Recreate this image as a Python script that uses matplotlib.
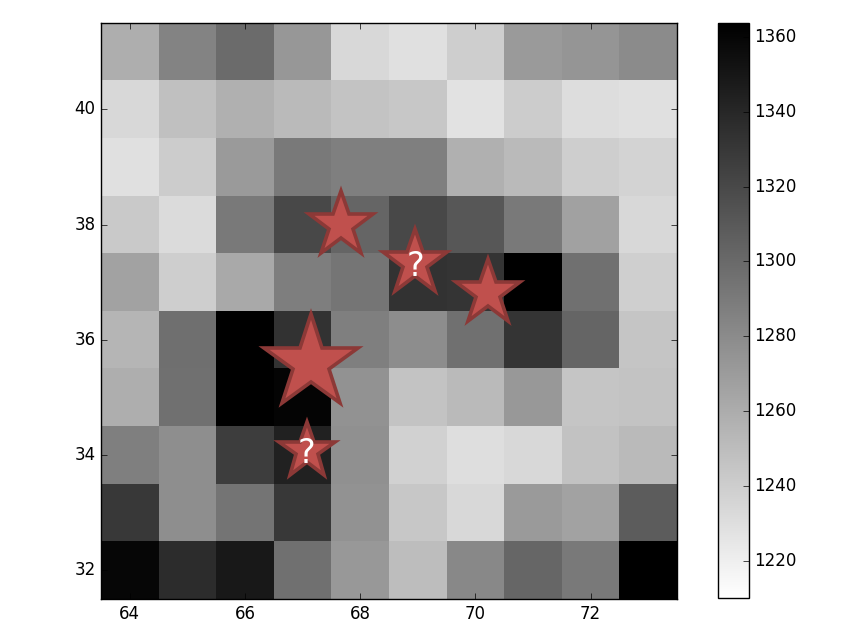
import matplotlib
matplotlib.use("Agg")
import matplotlib.pyplot as plt
from matplotlib.markers import MarkerStyle
import numpy as np

# grid values, top row (y=41) first, columns x=64..73
row_41 = [1259, 1284, 1299, 1273, 1234, 1229, 1240, 1271, 1274, 1280]
row_40 = [1234, 1248, 1258, 1252, 1246, 1244, 1228, 1241, 1231, 1229]
row_39 = [1229, 1241, 1271, 1290, 1287, 1287, 1258, 1252, 1240, 1237]
row_38 = [1243, 1232, 1290, 1320, 1303, 1320, 1311, 1290, 1267, 1234]
row_37 = [1266, 1240, 1262, 1288, 1293, 1333, 1332, 1364, 1296, 1239]
row_36 = [1255, 1297, 1364, 1333, 1287, 1279, 1296, 1332, 1303, 1245]
row_35 = [1259, 1296, 1364, 1361, 1276, 1246, 1252, 1272, 1245, 1246]
row_34 = [1287, 1278, 1327, 1343, 1277, 1238, 1230, 1234, 1247, 1252]
row_33 = [1330, 1278, 1294, 1329, 1276, 1244, 1234, 1271, 1266, 1308]
row_32 = [1360, 1337, 1349, 1296, 1272, 1250, 1282, 1302, 1290, 1364]
grid = np.array([row_41, row_40, row_39, row_38, row_37,
                 row_36, row_35, row_34, row_33, row_32])

# star markers
star_x = [67.66, 68.96, 70.22, 67.15, 67.07]
star_y = [38.00, 37.33, 36.82, 35.60, 34.07]
star_ms = [49, 49, 49, 71, 42]
star_label = ["", "?", "", "", "?"]

plt.style.use("classic")
fig = plt.figure(figsize=(8.46, 6.38), dpi=100, facecolor="white")
ax = fig.add_axes([0.1194, 0.0611, 0.6808, 0.9028])
cax = fig.add_axes([0.8487, 0.0627, 0.0366, 0.9012])

im = ax.imshow(grid, cmap="gray_r", vmin=1210, vmax=1363.7,
               extent=[63.5, 73.5, 31.5, 41.5], origin="upper",
               interpolation="nearest", aspect="auto")
star = MarkerStyle("*", joinstyle="miter")
for x, y, ms, lab in zip(star_x, star_y, star_ms, star_label):
    ax.plot(x, y, marker=star, ms=ms, mfc="#c0504d", mec="#8c3937",
            mew=2.6, ls="none")
    if lab:
        ax.text(x, y - 0.05, lab, color="white", fontsize=24,
                ha="center", va="center")

ax.set_xlim(63.5, 73.5)
ax.set_ylim(31.5, 41.5)
ax.set_xticks([64, 66, 68, 70, 72])
ax.set_yticks([32, 34, 36, 38, 40])

cb = fig.colorbar(im, cax=cax)
cb.set_ticks([1220, 1240, 1260, 1280, 1300, 1320, 1340, 1360])

fig.savefig("out.png", dpi=100, facecolor="white")
